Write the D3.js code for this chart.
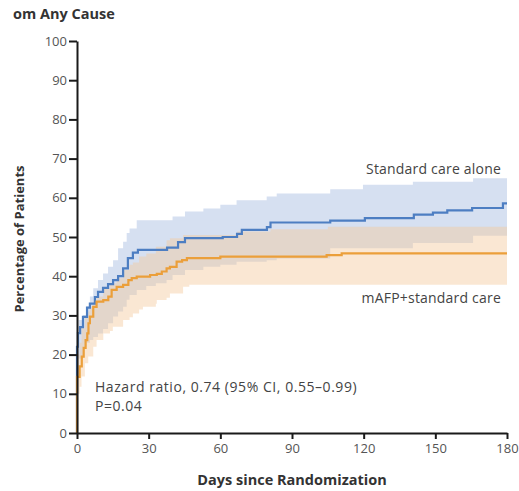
<!DOCTYPE html>
<html><head><meta charset="utf-8">
<script src="https://cdn.jsdelivr.net/npm/d3@7"></script>
<style>
body{margin:0;background:#fff;}
svg{display:block;font-family:"Open Sans",sans-serif;}
</style></head>
<body><svg id="c" width="519" height="491"></svg>
<script>
// Standard care alone: step curve (days, cumulative %)
const stdDays = [0,0,0.4,1.3,2.5,4.2,5.4,7.5,8.8,10.9,13,15.1,17.2,19.3,21.3,23.4,25.5,37.7,42.3,45.2,61,67,69,79.5,81,106,120.5,141,149,155,165.4,178.3,180];
const stdPct  = [0,22,25.5,27,29.6,32,33,34.7,36,37,38,39,40,42,44.6,46,46.7,47.3,48.7,49.7,50,50.8,51.8,52.5,53.7,54.2,54.8,55.7,56.2,56.8,57.4,58.6,58.6];
// Standard care CI band
const stdBandDays = [0,0.6,2.5,4,5.4,6.8,8.8,10.9,13,15.1,17.2,19.3,20.8,22,25,29,33,37.5,40,45.2,52.9,60,66.8,79.4,83.6,106,119.7,140.6,165.8,180];
const stdHi = [27,28.8,30.1,32.2,34.8,36.9,39,40.7,42.4,44.1,47.1,48.8,51,52.2,54.3,54.3,54.3,54.3,55.2,56.5,57.3,58.2,59.4,60.3,61.1,62.2,63.3,64.1,65,65];
const stdLo = [15,19,22,23,23.7,24.5,25.4,26.5,28,29.7,31,32.2,34,35.2,36.5,37.5,38.2,39,40.3,41.6,42.4,42.9,43.7,44.1,44.5,47.1,47.1,48.5,50.3,50.3];
// mAFP+standard care: step curve
const mafpDays = [0,0,1.1,2,2.8,3.6,4.3,4.8,5.4,6.8,8.2,11,13.1,14.5,16.6,19.3,21.5,22.9,25,30.6,33.4,35.5,37.5,38.9,41.7,44,46,60,104.5,110.8,180];
const mafpPct  = [0,14.3,17,19.5,21.7,23.7,25.4,28,29.7,32.2,33.5,33.9,34.8,36.5,37.3,37.8,39,39.5,39.9,40.3,40.6,41.2,42,42.4,43.7,44.1,44.6,45,45.4,45.8,45.8];
// mAFP+standard care CI band
const mafpBandDays = [0,1.1,1.9,3.3,4.7,5.4,6.8,8.2,11,13.8,15,16.6,19.3,22,23.4,26,27.6,29,33,33.4,37.5,38.9,44.4,47,67,81,105,180];
const mafpHi = [20,23,26.7,29.7,31,32.2,33.5,34.8,36.9,38.2,38.2,39.5,41.6,42.9,43.5,45,45,45.8,47.5,47.5,49.2,49.7,50.5,50.5,51.4,52,52.6,52.6];
const mafpLo = [10,11.8,14.4,17.8,19.5,19.5,22,23.7,25.4,26,27.1,27.1,28.8,29.5,30.5,31.5,32.2,32.2,33,33.9,34.5,35.6,37.3,37.8,37.8,37.8,37.8,37.8];

const xTicks = [0,30,60,90,120,150,180];
const yTicks = [0,10,20,30,40,50,60,70,80,90,100];
const seriesNames = ["Standard care alone","mAFP+standard care"];

const svg = d3.select("#c");
const x = d3.scaleLinear().domain([0,180]).range([77,507]);
const y = d3.scaleLinear().domain([0,100]).range([433,41]);

const zip = (d, v) => d.map((t,i)=>({t, v:v[i]}));
const band = (d, lo, hi) => d.map((t,i)=>({t, lo:lo[i], hi:hi[i]}));

const area = d3.area().curve(d3.curveStepAfter).x(d=>x(d.t)).y0(d=>y(d.lo)).y1(d=>y(d.hi));
const line = d3.line().curve(d3.curveStepAfter).x(d=>x(d.t)).y(d=>y(d.v));

svg.append("path").datum(band(stdBandDays, stdLo, stdHi)).attr("d", area)
  .attr("fill","#d6e0f1");
svg.append("path").datum(band(mafpBandDays, mafpLo, mafpHi)).attr("d", area)
  .attr("fill","rgb(244,202,157)").attr("fill-opacity",0.45);

svg.append("path").datum(zip(stdDays, stdPct)).attr("d", line)
  .attr("fill","none").attr("stroke","#4d7ec2").attr("stroke-width",2.2);
svg.append("path").datum(zip(mafpDays, mafpPct)).attr("d", line)
  .attr("fill","none").attr("stroke","#eb9f3a").attr("stroke-width",2.2);

// axes
const yAxis = svg.append("g").attr("transform","translate(77,0)")
  .call(d3.axisLeft(y).tickValues(yTicks).tickSize(8).tickSizeOuter(0).tickPadding(2));
const xAxis = svg.append("g").attr("transform","translate(0,433)")
  .call(d3.axisBottom(x).tickValues(xTicks).tickSize(6).tickSizeOuter(0).tickPadding(5));
[yAxis,xAxis].forEach(g=>{
  g.select(".domain").attr("stroke","#1a1a1a").attr("stroke-width",2);
  g.selectAll(".tick line").attr("stroke","#1a1a1a").attr("stroke-width",2);
  g.selectAll(".tick text").attr("fill","#555").style("font-size","13px").style("font-family","'Open Sans',sans-serif");
});

// texts
svg.append("text").attr("x",13).attr("y",19).text("om Any Cause")
  .attr("font-weight","bold").attr("font-size",14.5).attr("fill","#333");
svg.append("text").attr("transform","translate(24,239) rotate(-90)").attr("text-anchor","middle")
  .text("Percentage of Patients").attr("font-weight","bold").attr("font-size",13).attr("fill","#333");
svg.append("text").attr("x",292).attr("y",485).attr("text-anchor","middle")
  .text("Days since Randomization").attr("font-weight","bold").attr("font-size",14.5).attr("fill","#333");
svg.append("text").attr("x",501).attr("y",174).attr("text-anchor","end")
  .text(seriesNames[0]).attr("font-size",14).attr("fill","#444").attr("letter-spacing",0.2);
svg.append("text").attr("x",501).attr("y",303).attr("text-anchor","end")
  .text(seriesNames[1]).attr("font-size",14).attr("fill","#444").attr("letter-spacing",0.2);
svg.append("text").attr("x",95).attr("y",392)
  .text("Hazard ratio, 0.74 (95% CI, 0.55–0.99)").attr("font-size",14).attr("fill","#444").attr("letter-spacing",0.55);
svg.append("text").attr("x",95).attr("y",411)
  .text("P=0.04").attr("font-size",14).attr("fill","#444").attr("letter-spacing",0.55);
</script></body></html>
